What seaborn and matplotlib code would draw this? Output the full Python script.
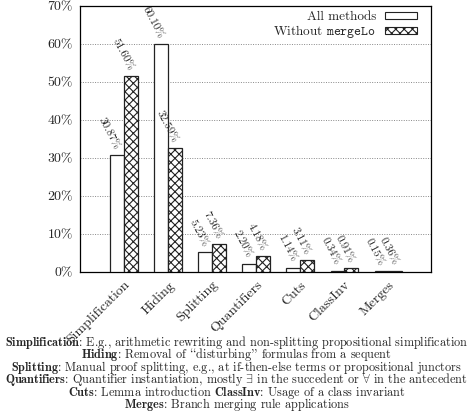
import matplotlib
matplotlib.use("Agg")
import matplotlib.pyplot as plt
from matplotlib.patches import Patch
import seaborn as sns
import pandas as pd

categories = ["Simplification", "Hiding", "Splitting", "Quantifiers", "Cuts", "ClassInv", "Merges"]
all_methods = [30.87, 60.10, 5.23, 2.20, 1.14, 0.34, 0.15]
without_mergelo = [51.60, 32.59, 7.36, 4.18, 3.11, 0.91, 0.36]
series_names = ["All methods", "Without mergeLo"]
legend_labels = ["All methods", r"Without $\mathtt{mergeLo}$"]
yticks = [0, 10, 20, 30, 40, 50, 60, 70]

caption_lines = [
    r"$\mathbf{Simplification}$: E.g., arithmetic rewriting and non-splitting propositional simplification",
    r"$\mathbf{Hiding}$: Removal of ``disturbing'' formulas from a sequent",
    r"$\mathbf{Splitting}$: Manual proof splitting, e.g., at if-then-else terms or propositional junctors",
    r"$\mathbf{Quantifiers}$: Quantifier instantiation, mostly $\exists$ in the succedent or $\forall$ in the antecedent",
    r"$\mathbf{Cuts}$: Lemma introduction $\mathbf{ClassInv}$: Usage of a class invariant",
    r"$\mathbf{Merges}$: Branch merging rule applications",
]

sns.set_theme(style="white")
plt.rcParams["font.family"] = ["cmr10", "DejaVu Serif"]
plt.rcParams["mathtext.fontset"] = "cm"
plt.rcParams["axes.unicode_minus"] = False
plt.rcParams["axes.formatter.use_mathtext"] = True
plt.rcParams["hatch.linewidth"] = 0.8
plt.rcParams["hatch.color"] = "black"

df = pd.DataFrame({
    "category": categories * 2,
    "value": all_methods + without_mergelo,
    "method": [series_names[0]] * len(categories) + [series_names[1]] * len(categories),
})

fig = plt.figure(figsize=(4.73, 4.12), dpi=100)
ax = fig.add_axes([0.169, 0.340, 0.742, 0.645])

sns.barplot(data=df, x="category", y="value", hue="method", order=categories,
            hue_order=series_names, palette={series_names[0]: "white", series_names[1]: "white"},
            width=0.62, edgecolor="#222222", linewidth=0.9, legend=False, ax=ax, zorder=3)

for i, cont in enumerate(ax.containers):
    for bar in cont:
        if i == 1:
            bar.set_hatch("xxxx")
        h = bar.get_height()
        cx = bar.get_x() + bar.get_width() / 2
        ax.annotate(f"{h:.2f}%", xy=(cx, h), xytext=(0, 4.5), textcoords="offset points",
                    rotation=-62, rotation_mode="anchor", ha="right", va="center",
                    fontsize=8, zorder=4)

ax.set_xlim(-1.0, 6.97)
ax.set_ylim(0, 70)
ax.set_yticks(yticks)
ax.set_yticklabels([f"{t}%" for t in yticks], fontsize=10)
ax.set_xticks(range(len(categories)))
ax.set_xticklabels(categories, rotation=45, ha="right", rotation_mode="anchor", fontsize=10)
ax.tick_params(axis="both", length=0, pad=5)
ax.set_xlabel("")
ax.set_ylabel("")
ax.yaxis.grid(True, linestyle=(0, (1, 1.5)), color="#888888", linewidth=0.7, zorder=0)
ax.xaxis.grid(False)
for s in ax.spines.values():
    s.set_color("black")
    s.set_linewidth(0.9)
    s.set_visible(True)

handles = [Patch(facecolor="white", edgecolor="#222222", linewidth=0.8),
           Patch(facecolor="white", edgecolor="#222222", linewidth=0.8, hatch="xxxx")]
ax.legend(handles=handles, labels=legend_labels, loc="upper right", frameon=False,
          markerfirst=False, fontsize=9.5, handlelength=2.4, handleheight=0.4,
          handletextpad=0.7, labelspacing=0.0, borderaxespad=0, borderpad=0,
          bbox_to_anchor=(1 - 14 / 351, 1 - 5 / 266))

fig.text(0.5, 1 - 334 / 412, "\n".join(caption_lines), ha="center", va="top",
         multialignment="center", fontsize=8.8, linespacing=0.62)

fig.savefig("out.png", dpi=100)
